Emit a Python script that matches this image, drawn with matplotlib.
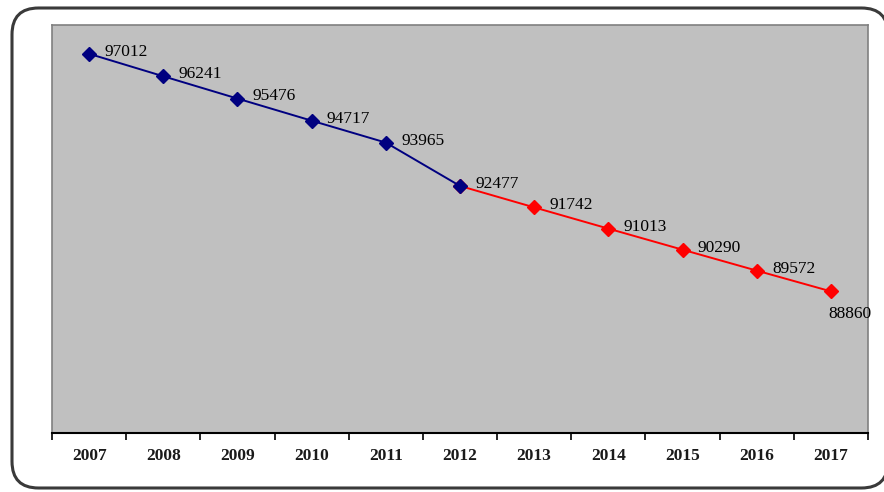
import numpy as np
import matplotlib.pyplot as plt
from matplotlib.patches import FancyBboxPatch

# data
years = ['2007', '2008', '2009', '2010', '2011', '2012',
         '2013', '2014', '2015', '2016', '2017']
actual = [97012, 96241, 95476, 94717, 93965, 92477]
forecast = [92477, 91742, 91013, 90290, 89572, 88860]

plt.rcParams['font.family'] = ['Liberation Serif', 'DejaVu Serif']

fig = plt.figure(figsize=(8.84, 4.92), dpi=100, facecolor='white')

# rounded frame around the chart
frame = FancyBboxPatch((12 / 884, 4 / 492), 876 / 884, 480 / 492,
                       boxstyle='round,pad=0,rounding_size=0.03',
                       transform=fig.transFigure, facecolor='white',
                       edgecolor='#3a3a3a', lw=2.2, mutation_aspect=884 / 492,
                       zorder=-1)
fig.patches.append(frame)

ax = fig.add_axes([52 / 884, 59 / 492, 816 / 884, 408 / 492], zorder=2)
ax.set_facecolor('#c0c0c0')

x = np.arange(len(years))
x_act = x[:len(actual)]
x_fc = x[len(actual) - 1:]

ax.plot(x_fc, forecast, color='#ff0000', lw=1.4, marker='D', ms=7.5,
        mec='#ff0000', mfc='#ff0000', zorder=3)
ax.plot(x_act, actual, color='#000080', lw=1.4, marker='D', ms=7.5,
        mec='#000080', mfc='#000080', zorder=4)

values = actual + forecast[1:]
for i, v in enumerate(values):
    if i == len(values) - 1:
        ax.annotate(str(v), (x[i], v), xytext=(-1.5, -16), textcoords='offset points',
                    ha='left', va='center', fontsize=12.5, color='black')
    else:
        ax.annotate(str(v), (x[i], v), xytext=(11, 1.5), textcoords='offset points',
                    ha='left', va='center', fontsize=12.5, color='black')

ax.set_xlim(-0.5, len(years) - 0.5)
ax.set_ylim(84000, 98000)
ax.set_yticks([])

ax.set_xticks(x)
ax.set_xticklabels(years, fontsize=12.5, fontweight='bold', color='#1a1a1a')
ax.set_xticks(np.arange(-0.5, len(years)), minor=True)
ax.tick_params(axis='x', which='major', length=0, pad=11)
ax.tick_params(axis='x', which='minor', length=5, width=1.2, color='black',
               direction='out')

for side in ['left', 'top', 'right']:
    ax.spines[side].set_color('#808080')
    ax.spines[side].set_linewidth(1.2)
ax.spines['bottom'].set_color('black')
ax.spines['bottom'].set_linewidth(1.5)

fig.savefig('out.png', dpi=100)
